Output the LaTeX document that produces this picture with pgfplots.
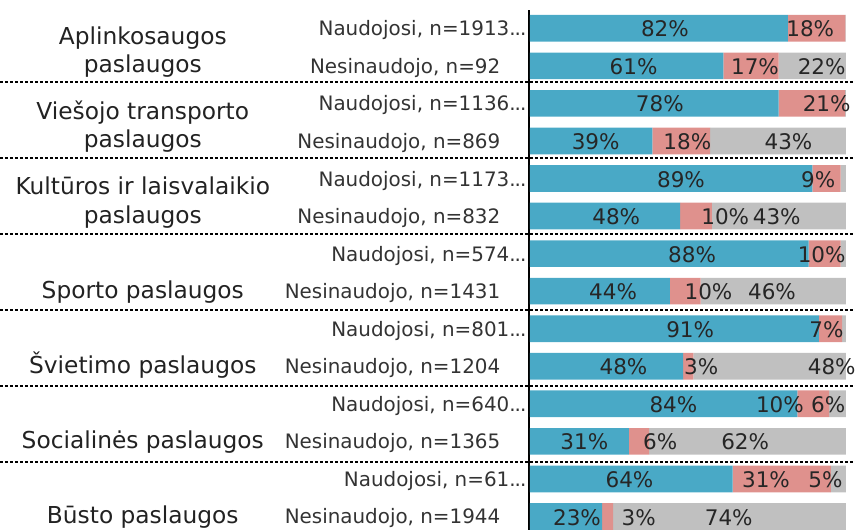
\documentclass[border=0pt]{standalone}
\usepackage{pgfplots}
\pgfplotsset{compat=1.18}
\usepackage{pgfplotstable}
\usepackage{fontspec}
\setmainfont{DejaVu Sans}
\definecolor{cblue}{HTML}{49A9C6}
\definecolor{cred}{HTML}{DF918D}
\definecolor{cgrey}{HTML}{C0C0C0}
\definecolor{ctext}{HTML}{333333}
\definecolor{cgroup}{HTML}{222222}

\pgfplotstableread{
row blue red grey
1  81.6 18.2 0.2
2  61.2 17.5 21.3
3  78.7 21.0 0.3
4  38.7 18.3 43.0
5  89.4 8.9  1.7
6  47.5 10.1 42.4
7  88.2 10.1 1.7
8  44.3 9.7  46.0
9  91.4 7.4  1.2
10 48.5 3.2  48.3
11 84.6 10.1 5.3
12 31.3 6.4  62.3
13 64.1 31.1 4.8
14 22.8 3.5  73.7
}\bardata

\pgfplotstableread{
x y v
42.7 1 82
88.7 1 18
32.8 2 61
71.2 2 17
92.3 2 22
41.1 3 78
93.9 3 21
20.8 4 39
49.8 4 18
81.8 4 43
47.8 5 89
91.2 5 9
27.3 6 48
61.8 6 10
78.1 6 43
51.3 7 88
92.3 7 10
26.3 8 44
56.5 8 10
76.6 8 46
50.7 9 91
93.8 9 7
29.6 10 48
54.2 10 3
95.5 10 48
45.4 11 84
79.1 11 10
94.4 11 6
17.2 12 31
41.2 12 6
68.1 12 62
31.5 13 64
74.7 13 31
93.5 13 5
14.9 14 23
34.4 14 3
62.9 14 74
}\labeldata

\newcommand{\trunc}{.\kern-1bp.\kern-1bp.}
\newcommand{\gap}{\kern26bp\relax}

\pgfplotsset{base/.style={
  at={(529bp,0bp)}, anchor=south west, scale only axis,
  width=326bp, height=520bp,
  xmin=-0.3, xmax=102.85, ymin=0.5127, ymax=14.361,
  y dir=reverse, clip=false, xtick=\empty}}

\begin{document}
\begin{tikzpicture}
\path[use as bounding box] (0,0) rectangle (855bp,530bp);
\begin{axis}[base, xbar stacked, bar width=0.711,
  axis x line=none, axis y line*=left,
  y axis line style={line width=1.5bp, black, -},
  ytick={1,...,14}, major tick length=0,
  yticklabels={{Naudojosi, n=1913\trunc},{Nesinaudojo, n=92\gap},
    {Naudojosi, n=1136\trunc},{Nesinaudojo, n=869\gap},
    {Naudojosi, n=1173\trunc},{Nesinaudojo, n=832\gap},
    {Naudojosi, n=574\trunc},{Nesinaudojo, n=1431\gap},
    {Naudojosi, n=801\trunc},{Nesinaudojo, n=1204\gap},
    {Naudojosi, n=640\trunc},{Nesinaudojo, n=1365\gap},
    {Naudojosi, n=61\trunc},{Nesinaudojo, n=1944\gap}},
  yticklabel style={anchor=base east, inner sep=0pt, xshift=-2.5bp, yshift=-7.5bp,
    font=\fontsize{19.9bp}{23bp}\selectfont, text=ctext}]
\addplot[fill=cblue, draw=none] table[x=blue,y=row]{\bardata};
\addplot[fill=cred, draw=none] table[x=red,y=row]{\bardata};
\addplot[fill=cgrey, draw=none] table[x=grey,y=row]{\bardata};
\end{axis}
\begin{axis}[base, axis lines=none, ytick=\empty]
\addplot[draw=none, mark=none, nodes near coords={\pgfplotspointmeta\%},
  point meta=explicit symbolic,
  every node near coord/.append style={anchor=base, yshift=-8.6bp, inner sep=0pt,
    font=\fontsize{21.5bp}{25bp}\selectfont, text=black!85}]
  table[x=x,y=y,meta=v]{\labeldata};
\pgfplotsinvokeforeach{2.43,4.455,6.48,8.505,10.53,12.555}{
  \draw[black, line width=1.6bp, dash pattern=on 3bp off 2bp]
    (axis cs:-167.7,#1) -- (axis cs:102.85,#1);
}
\tikzset{grp/.style={anchor=base, inner sep=0pt, text=cgroup,
  font=\fontsize{23.3bp}{27bp}\selectfont}}
\node[grp, yshift=-7bp+28.6bp] at (axis cs:-122.5,2) {Aplinkosaugos};
\node[grp, yshift=-7bp] at (axis cs:-122.5,2) {paslaugos};
\node[grp, yshift=-7bp+28.6bp] at (axis cs:-122.5,4) {Viešojo transporto};
\node[grp, yshift=-7bp] at (axis cs:-122.5,4) {paslaugos};
\node[grp, yshift=-7bp+28.6bp] at (axis cs:-122.5,6) {Kultūros ir laisvalaikio};
\node[grp, yshift=-7bp] at (axis cs:-122.5,6) {paslaugos};
\node[grp, yshift=-7bp] at (axis cs:-122.5,8) {Sporto paslaugos};
\node[grp, yshift=-7bp] at (axis cs:-122.5,10) {Švietimo paslaugos};
\node[grp, yshift=-7bp] at (axis cs:-122.5,12) {Socialinės paslaugos};
\node[grp, yshift=-7bp] at (axis cs:-122.5,14) {Būsto paslaugos};
\end{axis}
\end{tikzpicture}
\end{document}
